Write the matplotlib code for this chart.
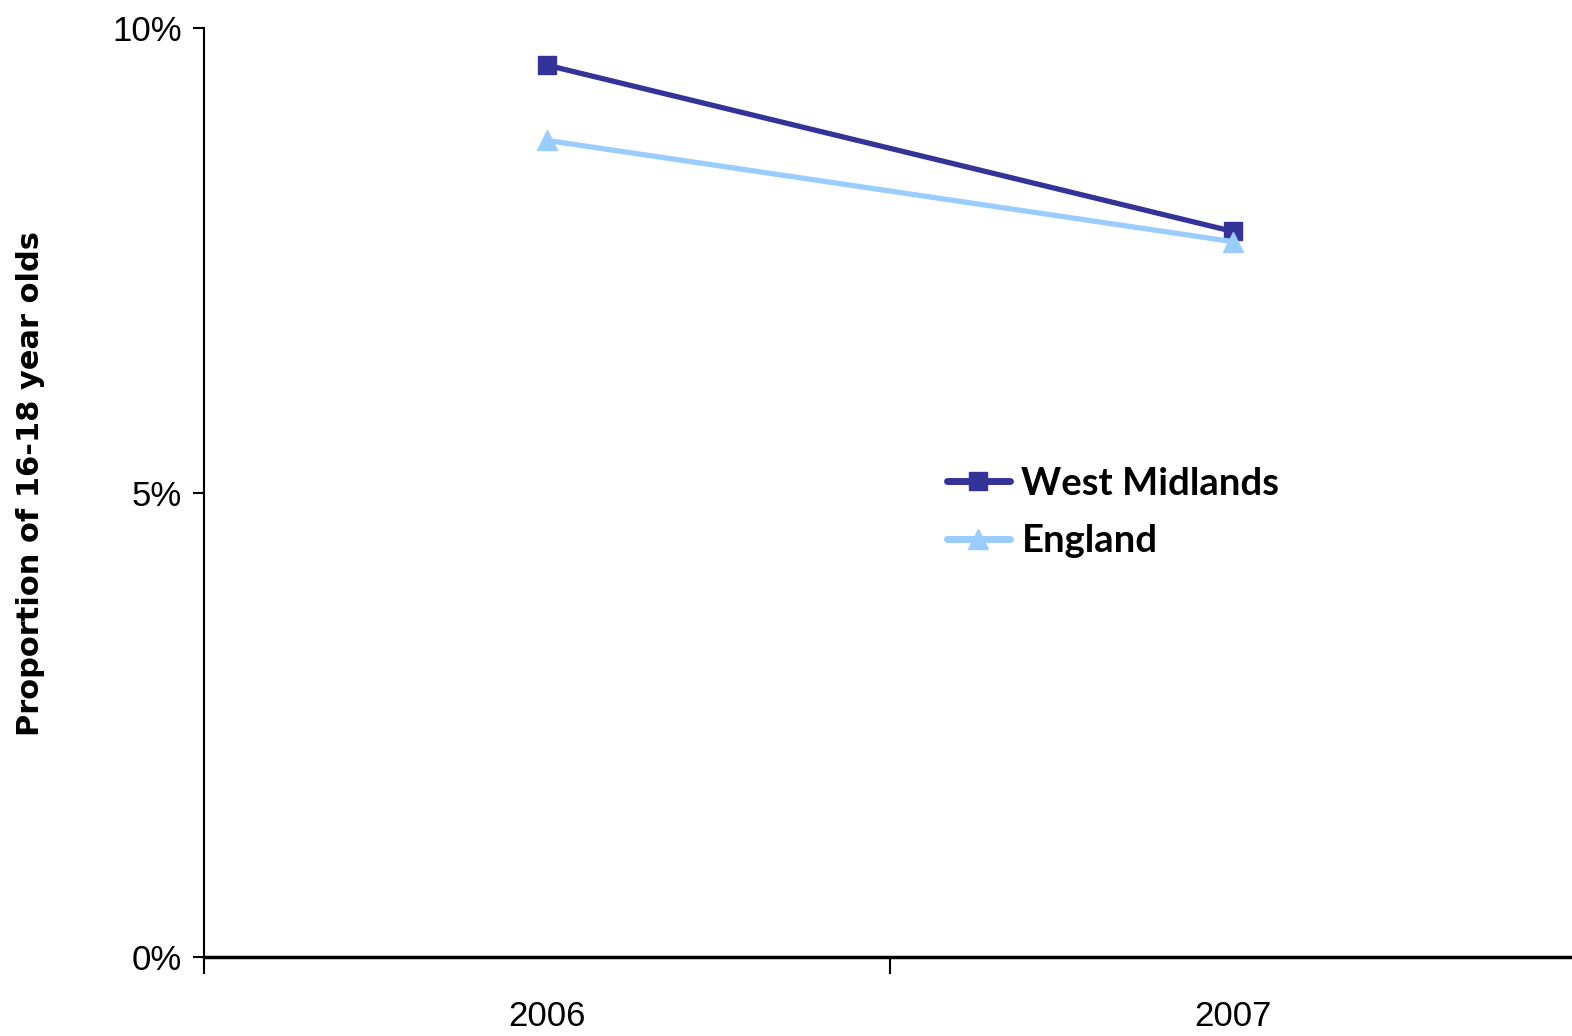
import matplotlib
matplotlib.use('Agg')
from matplotlib import pyplot as plt
from matplotlib.ticker import FixedLocator, NullFormatter

# data
years = ['2006', '2007']
west_midlands = [9.60, 7.81]   # % of 16-18 year olds
england = [8.79, 7.70]
y_ticks = [0, 5, 10]

dark_blue = '#333399'
light_blue = '#99ccff'

fig = plt.figure(figsize=(15.72, 10.36), dpi=100)
ax = fig.add_axes([204/1572, 79/1036, 1372/1572, 929/1036])

x = [i + 0.5 for i in range(len(years))]
ax.plot(x, west_midlands, '-s', color=dark_blue, lw=3.8, ms=13, label='West Midlands')
ax.plot(x, england, '-^', color=light_blue, lw=3.8, ms=15, label='England')

ax.set_xlim(0, len(years))
ax.set_ylim(0, 10)

for s in ['top', 'right']:
    ax.spines[s].set_visible(False)
ax.spines['left'].set_linewidth(1.5)
ax.spines['bottom'].set_linewidth(2.5)

tick_font = ['Liberation Sans Narrow', 'Liberation Sans', 'DejaVu Sans']
ax.set_yticks(y_ticks)
ax.set_yticklabels([f'{v}%' for v in y_ticks], family=tick_font, fontsize=25)
ax.tick_params(axis='y', length=8, width=1.5, pad=8)

# category boundaries carry the ticks, labels sit in the middle
ax.xaxis.set_major_locator(FixedLocator(range(len(years) + 1)))
ax.xaxis.set_major_formatter(NullFormatter())
ax.set_xticks(x, minor=True)
ax.set_xticklabels(years, minor=True, family=tick_font, fontsize=25)
ax.tick_params(axis='x', which='major', length=12, width=1.5)
ax.tick_params(axis='x', which='minor', length=0, pad=31)

ax.set_ylabel('Proportion of 16-18 year olds', fontsize=22, fontweight='bold', labelpad=48)
ax.yaxis.label.set_y(0.51)

leg = ax.legend(loc='center left', bbox_to_anchor=(0.5415, 0.4786), frameon=False,
                prop={'family': ['Lato', 'DejaVu Sans'], 'size': 27.5, 'weight': 'bold'},
                handlelength=1.65, handletextpad=0.3,
                borderpad=0, borderaxespad=0, labelspacing=0.62)
for h in leg.get_lines():
    h.set_linewidth(5)
    h.set_solid_capstyle('round')

fig.savefig('out.png', dpi=100)
